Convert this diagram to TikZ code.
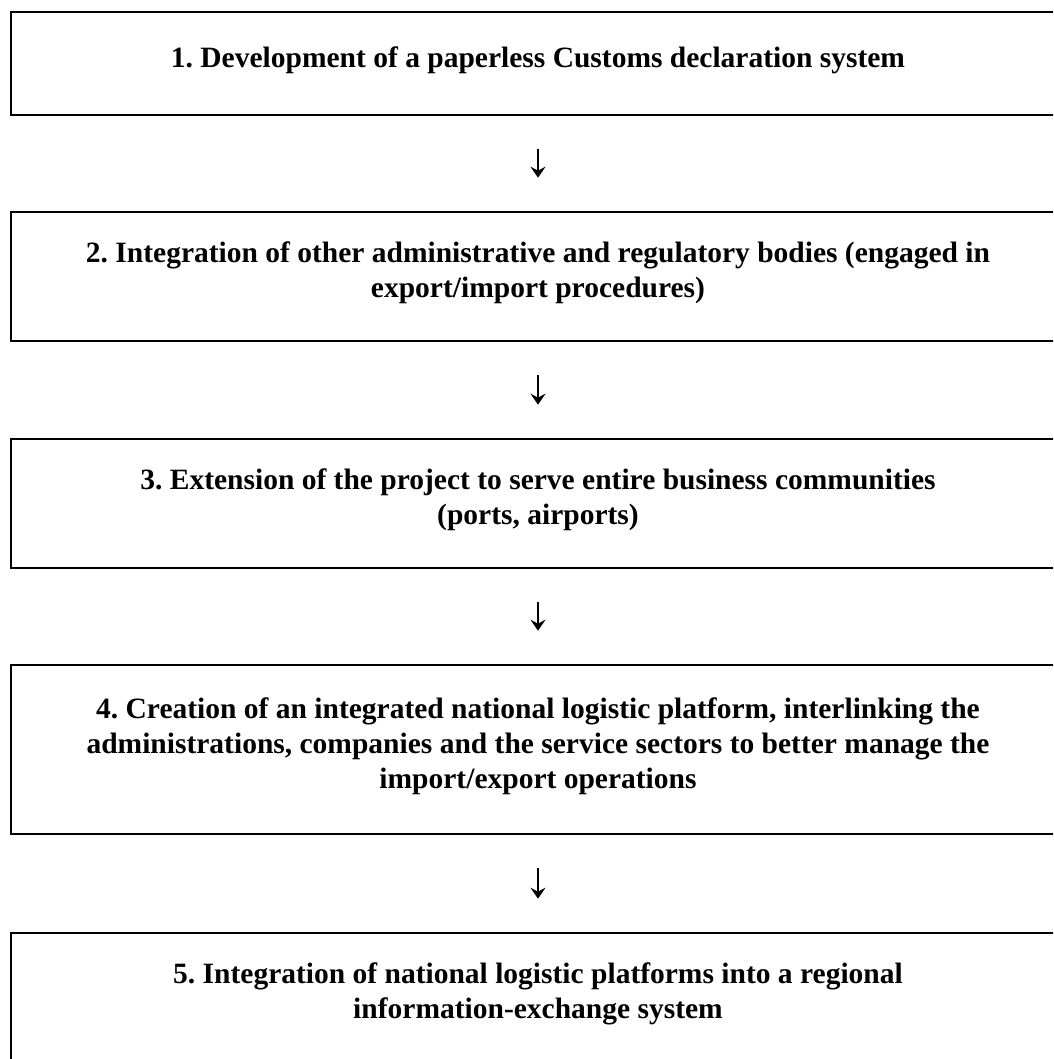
\documentclass[tikz,border=0pt]{standalone}
\usepackage{fontspec}
\setmainfont{Liberation Serif}
\usetikzlibrary{arrows.meta}
\frenchspacing
\begin{document}
\begin{tikzpicture}[x=1pt,y=-1pt,
  stagebox/.style={draw=black, line width=2.6pt, rectangle, inner sep=0pt, minimum width=1054pt},
  stagetext/.style={font=\fontsize{29.5}{35}\selectfont\bfseries, align=center, inner sep=0pt},
  flowarrow/.style={line width=1.8pt, -{Stealth[length=11pt,width=15pt,inset=4pt]}, shorten <=33pt, shorten >=33pt}]
\path[use as bounding box] (0,0) rectangle (1053,1059);
\clip (0,0) rectangle (1053,1059);
\node[stagebox, minimum height=103pt] (b1) at (538,63.5) {};
\node[stagebox, minimum height=129pt] (b2) at (538,276.5) {};
\node[stagebox, minimum height=129pt] (b3) at (538,503.5) {};
\node[stagebox, minimum height=169pt] (b4) at (538,749.5) {};
\node[stagebox, minimum height=129pt] (b5) at (538,997.5) {};
\node[stagetext] (t1) at (538,60) {1. Development of a paperless Customs declaration system};
\node[stagetext] (t2) at (538,273) {2. Integration of other administrative and regulatory bodies (engaged in\\export/import procedures)};
\node[stagetext] (t3) at (538,500) {3. Extension of the project to serve entire business communities\\(ports, airports)};
\node[stagetext] (t4) at (538,746) {4. Creation of an integrated national logistic platform, interlinking the\\administrations, companies and the service sectors to better manage the\\import/export operations};
\node[stagetext] (t5) at (538,994) {5. Integration of national logistic platforms into a regional\\information-exchange system};
\draw[flowarrow] (b1.south) -- (b2.north);
\draw[flowarrow] (b2.south) -- (b3.north);
\draw[flowarrow] (b3.south) -- (b4.north);
\draw[flowarrow] (b4.south) -- (b5.north);
\end{tikzpicture}
\end{document}
